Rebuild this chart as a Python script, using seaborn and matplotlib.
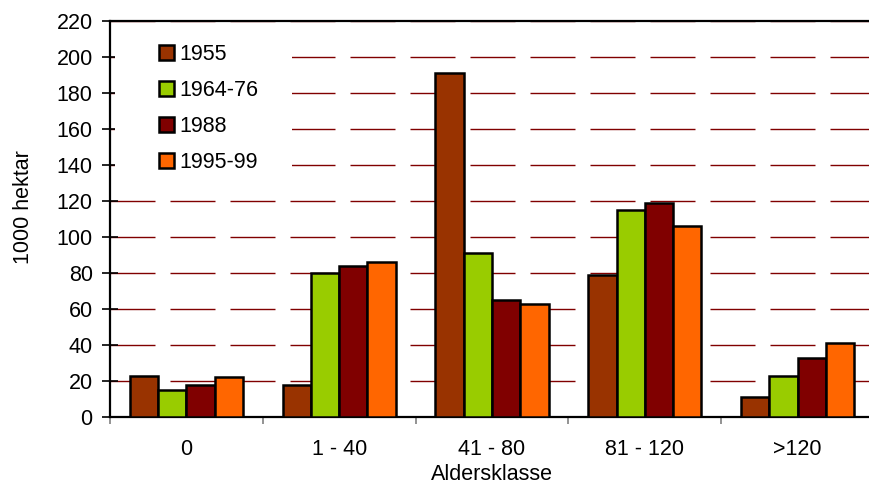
import numpy as np
import pandas as pd
import matplotlib
matplotlib.use("Agg")
import matplotlib.pyplot as plt
from matplotlib.patches import Patch, Rectangle
import seaborn as sns

categories = ["0", "1 - 40", "41 - 80", "81 - 120", ">120"]
series = ["1955", "1964-76", "1988", "1995-99"]
v1955 = [23, 18, 191, 79, 11]
v1964 = [15, 80, 91, 115, 23]
v1988 = [18, 84, 65, 119, 33]
v1995 = [22, 86, 63, 106, 41]
colors = ["#993300", "#99CC00", "#800000", "#FF6600"]
yticks = list(range(0, 221, 20))

rows = []
for s, vals in zip(series, [v1955, v1964, v1988, v1995]):
    for c, v in zip(categories, vals):
        rows.append({"Aldersklasse": c, "Periode": s, "Verdi": v})
df = pd.DataFrame(rows)

sns.set_theme(style="white")
plt.rcParams["font.family"] = ["Liberation Sans", "DejaVu Sans"]
plt.rcParams["lines.scale_dashes"] = False
FS = 15.5

fig = plt.figure(figsize=(8.69, 4.86), dpi=100)
ax = fig.add_axes([110 / 869, 69 / 486, 764 / 869, 396 / 486])

sns.barplot(data=df, x="Aldersklasse", y="Verdi", hue="Periode",
            order=categories, hue_order=series, palette=colors,
            width=0.74, edgecolor="black", linewidth=1.8,
            saturation=1, ax=ax, legend=False, zorder=3)

ax.set_ylim(0, 220)
ax.set_yticks(yticks)
ax.set_xlim(-0.5, 4.5)
ax.set_axisbelow(True)
ax.yaxis.grid(True, color="#800000", linewidth=1.0,
              linestyle=(0, (32.4, 10.8)))
ax.xaxis.grid(False)

ax.set_xticks(np.arange(len(categories)))
ax.set_xticklabels(categories)
ax.set_xticks(np.arange(len(categories) + 1) - 0.5, minor=True)
ax.tick_params(axis="x", which="major", length=0, pad=16, labelsize=FS,
               labelcolor="black")
ax.tick_params(axis="x", which="minor", length=5, width=1.2,
               color="#808080", direction="out", bottom=True)
ax.tick_params(axis="y", which="major", length=11, width=1.2,
               direction="inout", color="black", labelsize=FS, pad=7,
               left=True, labelcolor="black")

for side in ["top", "left", "bottom"]:
    ax.spines[side].set_visible(True)
    ax.spines[side].set_color("black")
    ax.spines[side].set_linewidth(1.6)
ax.spines["right"].set_visible(False)

ax.set_xlabel("Aldersklasse", fontsize=FS, color="black")
ax.set_ylabel("1000 hektar", fontsize=FS, color="black")
ax.xaxis.set_label_coords(0.5, -0.119)
ax.yaxis.set_label_coords(-0.10, 0.53)

# white legend background covering grid
ax.add_patch(Rectangle((0.006, 0.585), 0.232, 0.40, transform=ax.transAxes,
                       facecolor="white", edgecolor="none", zorder=1.5))

handles = [Patch(facecolor=c, edgecolor="black", linewidth=1.8, label=s)
           for c, s in zip(colors, series)]
leg = ax.legend(handles=handles, loc="upper left",
                bbox_to_anchor=(159 / 869, 1 - 44 / 486),
                bbox_transform=fig.transFigure,
                frameon=False, fontsize=FS, handlelength=0.7,
                handleheight=0.7, handletextpad=0.25, labelspacing=0.7,
                borderpad=0, borderaxespad=0)
for t in leg.get_texts():
    t.set_color("black")

fig.savefig("out.png", dpi=100)
